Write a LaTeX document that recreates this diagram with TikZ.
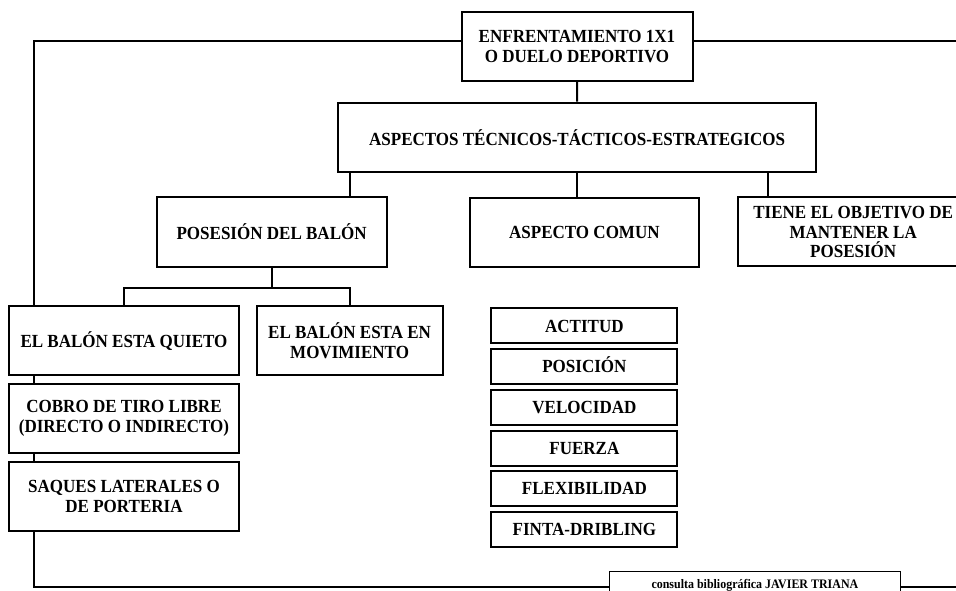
\documentclass[tikz,border=0pt]{standalone}
\usepackage{fontspec}
\setmainfont{Liberation Serif}[FakeStretch=0.92]
\usepackage{tikz}
\tikzset{
	caja/.style={draw, line width=2pt, fill=white, inner sep=0pt, align=center,
		font=\bfseries\fontsize{18.5}{19.8}\selectfont},
	rasgo/.style={caja, minimum width=186pt, minimum height=35pt, text height=12.5pt, text depth=0pt},
	linea/.style={line width=2pt}
}

\begin{document}
\begin{tikzpicture}[x=1pt, y=1pt]
			%%%%% START %%%%%
			
			\useasboundingbox (0, 0) rectangle (956, 590);
			\clip (0, 0) rectangle (956, 590);
			
			\draw[linea] (34, 3) rectangle (990, 549);
			
			\node[caja, minimum width=231pt, minimum height=69pt] (top) at (577, 543.8) {ENFRENTAMIENTO 1X1\\O DUELO DEPORTIVO};
			\node[caja, minimum width=478.6pt, minimum height=69pt] (asp) at (577.1, 452.8) {ASPECTOS TÉCNICOS-TÁCTICOS-ESTRATEGICOS};
			
			\node[caja, minimum width=229.8pt, minimum height=69.4pt] (pos) at (271.6, 358) {POSESIÓN DEL BALÓN};
			\node[caja, minimum width=229.8pt, minimum height=69pt] (com) at (584.4, 357.5) {ASPECTO COMUN};
			\node[caja, minimum width=229.8pt, minimum height=69pt] (tie) at (853.2, 358) {TIENE EL OBJETIVO DE\\MANTENER LA\\POSESIÓN};
			
			\node[caja, minimum width=230pt, minimum height=69.3pt] (qui) at (124, 249.3) {EL BALÓN ESTA QUIETO};
			\node[caja, minimum width=186pt, minimum height=69.3pt] (mov) at (349.6, 249.3) {EL BALÓN ESTA EN\\MOVIMIENTO};
			\node[caja, minimum width=230pt, minimum height=69.3pt] (cob) at (124, 171.3) {COBRO DE TIRO LIBRE\\(DIRECTO O INDIRECTO)};
			\node[caja, minimum width=230pt, minimum height=69pt] (saq) at (124, 93.8) {SAQUES LATERALES O\\DE PORTERIA};
			
			\node[rasgo] (act) at (584.4, 264.2) {ACTITUD};
			\node[rasgo] (psc) at (584.4, 223.5) {POSICIÓN};
			\node[rasgo] (vel) at (584.4, 182.5) {VELOCIDAD};
			\node[rasgo] (fue) at (584.4, 142) {FUERZA};
			\node[rasgo] (fle) at (584.4, 101.5) {FLEXIBILIDAD};
			\node[rasgo] (fin) at (584.4, 60.8) {FINTA-DRIBLING};
			
			\node[draw, line width=0.8pt, fill=white, minimum width=290.3pt, minimum height=27.2pt, inner sep=0pt,
				font=\bfseries\fontsize{13}{14}\selectfont] (cons) at (754.9, 4.7) {consulta bibliográfica JAVIER TRIANA};
			
			\draw[linea] (top) -- (asp);
			\draw[linea] (asp.south -| mov) -- (pos.north -| mov);
			\draw[linea] (asp.south) -- (asp.south |- com.north);
			\draw[linea] ([xshift=-49pt]asp.south east) -- ([xshift=-49pt]asp.south east |- tie.north);
			
			\coordinate (pj) at ([yshift=-20pt]pos.south);
			\draw[linea] (pos.south) -- (pj);
			\draw[linea] (qui.north) |- (pj) -| (mov.north);
			
			%%%%% END %%%%%
		\end{tikzpicture}
\end{document}
